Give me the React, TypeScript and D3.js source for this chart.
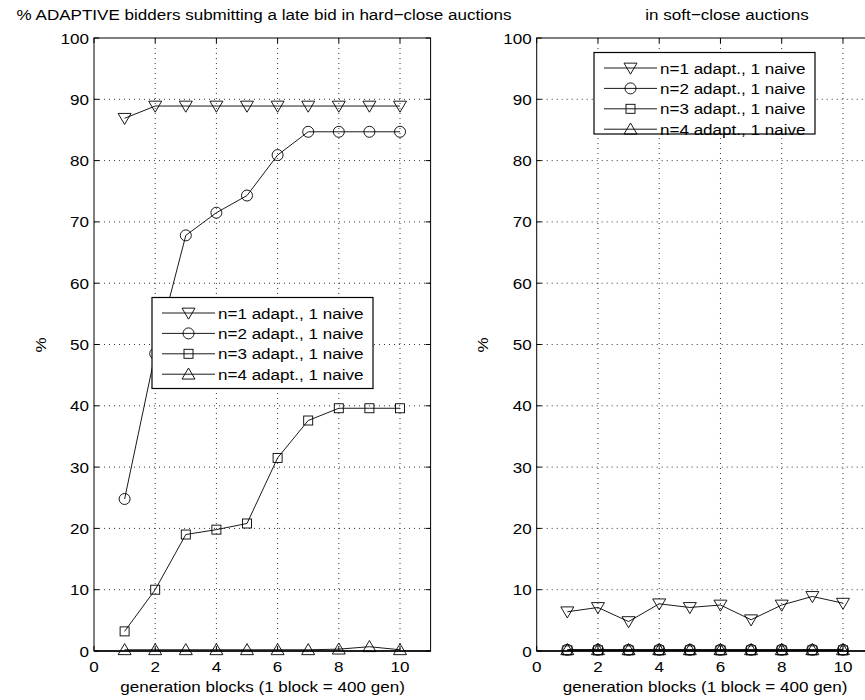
import React from "react";
import * as d3 from "d3";

const blocks = [1, 2, 3, 4, 5, 6, 7, 8, 9, 10];
const seriesNames = [
  "n=1 adapt., 1 naive",
  "n=2 adapt., 1 naive",
  "n=3 adapt., 1 naive",
  "n=4 adapt., 1 naive",
];
const markerKinds = ["tri-down", "circle", "square", "tri-up"];

const hardN1 = [86.9, 88.9, 88.9, 88.9, 88.9, 88.9, 88.9, 88.9, 88.9, 88.9];
const hardN2 = [24.8, 48.5, 67.8, 71.5, 74.3, 80.9, 84.7, 84.7, 84.7, 84.7];
const hardN3 = [3.2, 10.0, 19.0, 19.8, 20.8, 31.5, 37.6, 39.6, 39.6, 39.6];
const hardN4 = [0.2, 0.2, 0.2, 0.2, 0.2, 0.2, 0.2, 0.3, 0.7, 0.2];

const softN1 = [6.4, 7.1, 4.8, 7.7, 7.1, 7.5, 5.1, 7.5, 8.9, 7.8];
const softN2 = [0.2, 0.2, 0.2, 0.2, 0.2, 0.2, 0.2, 0.2, 0.2, 0.2];
const softN3 = [0.1, 0.1, 0.1, 0.1, 0.1, 0.1, 0.1, 0.1, 0.1, 0.1];
const softN4 = [0.2, 0.2, 0.2, 0.2, 0.2, 0.2, 0.2, 0.2, 0.2, 0.2];

const xTicks = [0, 2, 4, 6, 8, 10];
const yTicks = [0, 10, 20, 30, 40, 50, 60, 70, 80, 90, 100];

const titleLeft = "% ADAPTIVE bidders submitting a late bid in hard\u2212close auctions";
const titleRight = "in soft\u2212close auctions";
const xLabel = "generation blocks (1 block = 400 gen)";
const yLabel = "%";

const FONT = "'Liberation Sans', Arial, Helvetica, sans-serif";
const FS = 15.5;
const SX = 1.1;

function T({ x, y, anchor = "start", children, rotate = 0, size = FS }: any) {
  const tr = rotate
    ? `translate(${x},${y}) rotate(${rotate}) scale(${SX},1)`
    : `translate(${x},${y}) scale(${SX},1)`;
  return (
    <text transform={tr} textAnchor={anchor} fontFamily={FONT} fontSize={size} fill="#000">
      {children}
    </text>
  );
}

function Marker({ kind, cx, cy }: { kind: string; cx: number; cy: number }) {
  const s = 6.5;
  const common = { fill: "none", stroke: "#000", strokeWidth: 0.9 };
  if (kind === "circle") return <circle cx={cx} cy={cy} r={5.5} {...common} />;
  if (kind === "square")
    return <rect x={cx - 4.5} y={cy - 4.5} width={9} height={9} {...common} />;
  if (kind === "tri-down")
    return (
      <path
        d={`M${cx - s},${cy - s * 0.75} L${cx + s},${cy - s * 0.75} L${cx},${cy + s * 0.95} Z`}
        {...common}
      />
    );
  return (
    <path
      d={`M${cx - s},${cy + s * 0.75} L${cx + s},${cy + s * 0.75} L${cx},${cy - s * 0.95} Z`}
      {...common}
    />
  );
}

function Panel({
  left,
  right,
  top,
  bottom,
  series,
  title,
  titleX,
  legend,
  yLabelX,
  xLabelX,
}: any) {
  const x = d3.scaleLinear().domain([0, 11]).range([left, right]);
  const y = d3.scaleLinear().domain([0, 100]).range([bottom, top]);
  const line = d3
    .line<number>()
    .x((_, i) => x(blocks[i]))
    .y((d) => y(d));
  const tl = 5;
  return (
    <g>
      {xTicks
        .filter((t) => t > 0)
        .map((t) => (
          <line
            key={"gx" + t}
            x1={x(t)}
            x2={x(t)}
            y1={top}
            y2={bottom}
            stroke="#000"
            strokeWidth={0.8}
            strokeDasharray="1,4"
          />
        ))}
      {yTicks
        .filter((t) => t > 0 && t < 100)
        .map((t) => (
          <line
            key={"gy" + t}
            x1={left}
            x2={right}
            y1={y(t)}
            y2={y(t)}
            stroke="#000"
            strokeWidth={0.8}
            strokeDasharray="1,4"
          />
        ))}
      <rect x={left} y={top} width={right - left} height={bottom - top} fill="none" stroke="#000" strokeWidth={1} />
      {xTicks.map((t) => (
        <g key={"tx" + t}>
          <line x1={x(t)} x2={x(t)} y1={bottom} y2={bottom - tl} stroke="#000" />
          <line x1={x(t)} x2={x(t)} y1={top} y2={top + tl} stroke="#000" />
          <T x={x(t)} y={bottom + 21} anchor="middle">
            {t}
          </T>
        </g>
      ))}
      {yTicks.map((t) => (
        <g key={"ty" + t}>
          <line x1={left} x2={left + tl} y1={y(t)} y2={y(t)} stroke="#000" />
          <line x1={right} x2={right - tl} y1={y(t)} y2={y(t)} stroke="#000" />
          <T x={left - 5} y={y(t) + 5.5} anchor="end">
            {t}
          </T>
        </g>
      ))}
      {series.map((vals: number[], si: number) => (
        <g key={"s" + si}>
          <path d={line(vals) || ""} fill="none" stroke="#000" strokeWidth={0.9} />
          {vals.map((v, i) => (
            <Marker key={i} kind={markerKinds[si]} cx={x(blocks[i])} cy={y(v)} />
          ))}
        </g>
      ))}
      <line x1={left} x2={right} y1={bottom} y2={bottom} stroke="#000" strokeWidth={1.5} />
      <T x={titleX} y={20} anchor="middle">
        {title}
      </T>
      <T x={xLabelX} y={692} anchor="middle">
        {xLabel}
      </T>
      <T x={yLabelX} y={345} anchor="middle" rotate={-90}>
        {yLabel}
      </T>
      <g>
        <rect
          x={legend.x}
          y={legend.y}
          width={legend.w}
          height={legend.h}
          fill="#fff"
          stroke="#000"
          strokeWidth={1.2}
        />
        {seriesNames.map((name, i) => {
          const cy = legend.y + 15.5 + i * 20.4;
          const lx = legend.x + 10;
          return (
            <g key={"l" + i}>
              <line x1={lx} x2={lx + 53} y1={cy} y2={cy} stroke="#000" strokeWidth={0.9} />
              <Marker kind={markerKinds[i]} cx={lx + 26.5} cy={cy} />
              <T x={lx + 56} y={cy + 5.5}>
                {name}
              </T>
            </g>
          );
        })}
      </g>
    </g>
  );
}

export default function App() {
  return (
    <svg
      width={865}
      height={700}
      style={{ position: "absolute", left: 0, top: 0, background: "#fff" }}
    >
      <rect x={0} y={0} width={865} height={700} fill="#fff" />
      <Panel
        left={94}
        right={430.6}
        top={38}
        bottom={651}
        series={[hardN1, hardN2, hardN3, hardN4]}
        title={titleLeft}
        titleX={264}
        legend={{ x: 152, y: 297.5, w: 221, h: 91 }}
        yLabelX={46}
        xLabelX={262.5}
      />
      <Panel
        left={536.7}
        right={873.6}
        top={38}
        bottom={651}
        series={[softN1, softN2, softN3, softN4]}
        title={titleRight}
        titleX={727}
        legend={{ x: 594, y: 52.5, w: 221, h: 81.5 }}
        yLabelX={488}
        xLabelX={705}
      />
    </svg>
  );
}
